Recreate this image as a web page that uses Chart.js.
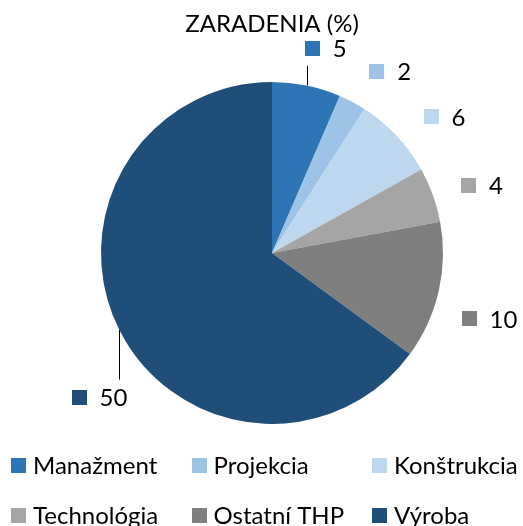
<!DOCTYPE html>
<html>
<head>
<meta charset="utf-8">
<script src="https://cdn.jsdelivr.net/npm/chart.js@4"></script>
<style>
    html, body { margin: 0; padding: 0; background: #fff; }
    #wrap { width: 523px; height: 526px; position: relative; }
</style>
</head>
<body>
<div id="wrap"><canvas id="pieChart"></canvas></div>
<script>
const CATEGORIES = ['Manažment', 'Projekcia', 'Konštrukcia', 'Technológia', 'Ostatní THP', 'Výroba'];
const VALUES = [5, 2, 6, 4, 10, 50];
const COLORS = ['#2E75B6', '#9DC3E6', '#BDD7EE', '#A5A5A5', '#7F7F7F', '#1F4E79'];

// label placement tweaks (degrees) and which labels get a leader line
const LABEL_NUDGE = [3, 5, 5, 2, 4, -13];
const LABEL_LEADER = [true, false, false, false, false, true];

const FONT = '24px Lato, "Open Sans", sans-serif';

const outsideLabels = {
    id: 'outsideLabels',
    afterDatasetsDraw(chart) {
        const ctx = chart.ctx;
        const meta = chart.getDatasetMeta(0);
        const values = chart.data.datasets[0].data;
        ctx.save();
        ctx.font = FONT;
        ctx.textBaseline = 'middle';
        meta.data.forEach((arc, i) => {
            const p = arc.getProps(['x', 'y', 'startAngle', 'endAngle', 'outerRadius'], true);
            const mid = (p.startAngle + p.endAngle) / 2 + LABEL_NUDGE[i] * Math.PI / 180;
            const text = String(values[i]);
            const w = 15 + 13 + ctx.measureText(text).width;
            const h = 17;
            const cos = Math.cos(mid), sin = Math.sin(mid);
            const ext = Math.abs(cos) * w / 2 + Math.abs(sin) * h / 2;
            const dist = p.outerRadius + 27 + ext;
            const cx = p.x + cos * dist;
            const cy = p.y + sin * dist;
            const left = cx - w / 2;

            ctx.fillStyle = COLORS[i];
            ctx.fillRect(Math.round(left), Math.round(cy - 7.5), 15, 15);
            ctx.fillStyle = '#000';
            ctx.fillText(text, left + 28, cy + 1);

            if (LABEL_LEADER[i]) {
                const realMid = (p.startAngle + p.endAngle) / 2;
                let lx = p.x + Math.cos(realMid) * p.outerRadius;
                lx = Math.min(Math.max(lx, left + 2), left + w - 8);
                const dx = lx - p.x;
                const dy = Math.sqrt(Math.max(0, p.outerRadius * p.outerRadius - dx * dx));
                const above = cy < p.y;
                const y0 = above ? cy + 7.5 + 10 : cy - 7.5 - 10;
                const y1 = above ? p.y - dy : p.y + dy;
                ctx.strokeStyle = '#000';
                ctx.lineWidth = 1;
                ctx.beginPath();
                ctx.moveTo(Math.round(lx) + 0.5, y0);
                ctx.lineTo(Math.round(lx) + 0.5, y1);
                ctx.stroke();
            }
        });
        ctx.restore();
    }
};

const gridLegend = {
    id: 'gridLegend',
    afterDraw(chart) {
        const ctx = chart.ctx;
        ctx.save();
        ctx.font = FONT;
        ctx.textBaseline = 'middle';
        CATEGORIES.forEach((name, i) => {
            const col = i % 3, row = Math.floor(i / 3);
            const x = 11 + col * 180.5;
            const y = 465.5 + row * 50;
            ctx.fillStyle = COLORS[i];
            ctx.fillRect(Math.round(x), Math.round(y - 7.5), 15, 15);
            ctx.fillStyle = '#000';
            ctx.fillText(name, x + 22, y + 1);
        });
        ctx.restore();
    }
};

new Chart(document.getElementById('pieChart'), {
    type: 'pie',
    data: {
        labels: CATEGORIES,
        datasets: [{
            data: VALUES,
            backgroundColor: COLORS,
            borderWidth: 0,
        }]
    },
    options: {
        responsive: true,
        maintainAspectRatio: false,
        animation: false,
        layout: { padding: { left: 101, right: 80, top: 0, bottom: 102 } },
        plugins: {
            legend: { display: false },
            tooltip: { enabled: false },
            title: {
                display: true,
                text: 'ZARADENIA (%)',
                color: '#000',
                font: { family: 'Lato, "Open Sans", sans-serif', size: 24, weight: 'normal' },
                padding: { top: 10, bottom: 43 },
            }
        }
    },
    plugins: [outsideLabels, gridLegend]
});
</script>
</body>
</html>
